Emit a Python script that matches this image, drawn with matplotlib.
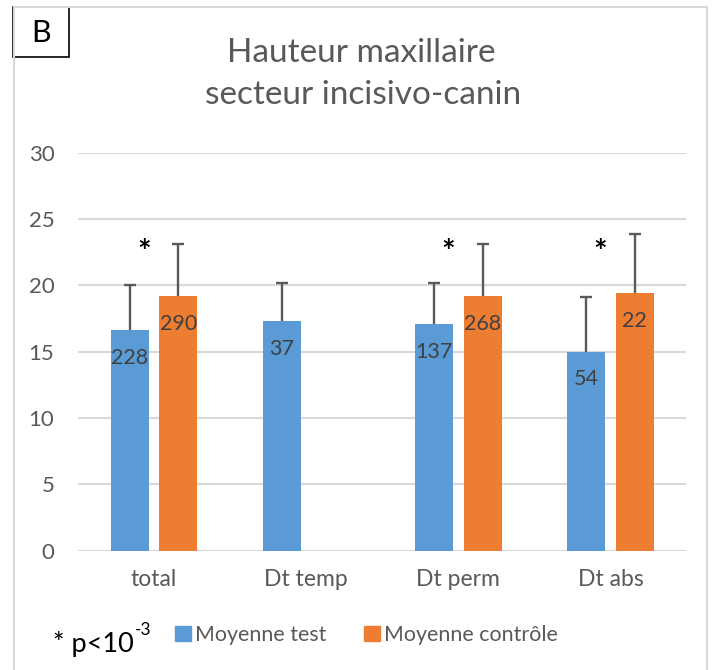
import matplotlib
matplotlib.use("Agg")
import matplotlib.pyplot as plt
import matplotlib.patches as mpatches
from matplotlib.lines import Line2D
import numpy as np

plt.rcParams['font.family'] = ['Lato', 'DejaVu Sans']

categories = ["total", "Dt temp", "Dt perm", "Dt abs"]
test_means = [16.6, 17.3, 17.1, 15.0]
test_err = [3.45, 2.9, 3.05, 4.1]
test_n = ["228", "37", "137", "54"]
ctrl_means = [19.2, np.nan, 19.2, 19.4]
ctrl_err = [3.95, np.nan, 3.9, 4.45]
ctrl_n = ["290", "", "268", "22"]
signif = [True, False, True, True]
yticks = [0, 5, 10, 15, 20, 25, 30]

BLUE = "#5B9BD5"
ORANGE = "#ED7D31"
GRAY = "#595959"
GRID = "#D9D9D9"

W, H = 717, 670
fig = plt.figure(figsize=(W / 100, H / 100), dpi=100)

def fx(px):
    return px / W

def fy(py):
    return 1 - py / H

# outer frame
for (x0, y0, x1, y1) in [(14, 7, 14, 680), (14, 7, 707, 7), (707, 7, 707, 680)]:
    fig.add_artist(Line2D([fx(x0), fx(x1)], [fy(y0), fy(y1)], color=GRID, lw=1.5,
                          transform=fig.transFigure))

ax = fig.add_axes([fx(78), fy(550.7), fx(686.5) - fx(78), fy(152.7) - fy(550.7)])
x = np.arange(len(categories))
off = 0.16
bw = 0.25

tm = np.array(test_means)
te = np.array(test_err)
cm = np.array(ctrl_means)
ce = np.array(ctrl_err)
ok = ~np.isnan(cm)

ax.bar(x - off, tm, bw, color=BLUE, zorder=3, label="Moyenne test")
ax.bar(x + off, cm, bw, color=ORANGE, zorder=3, label="Moyenne contrôle")

# upper-only error bars (no cap at the bar top)
for xs, m, e in [(x - off, tm, te), ((x + off)[ok], cm[ok], ce[ok])]:
    ax.vlines(xs, m, m + e, color=GRAY, lw=1.7, zorder=4)
    ax.plot(xs, m + e, ls='none', marker='_', markersize=9, mew=1.7,
            color=GRAY, zorder=4)

for i in range(len(x)):
    ax.annotate(test_n[i], (x[i] - off, tm[i]), xytext=(0, -20),
                textcoords='offset points', ha='center', va='center',
                fontsize=15.5, color="#404040", zorder=5)
    if ok[i]:
        ax.annotate(ctrl_n[i], (x[i] + off, cm[i]), xytext=(0, -20),
                    textcoords='offset points', ha='center', va='center',
                    fontsize=15.5, color="#404040", zorder=5)
    if signif[i]:
        ax.text(x[i] - 0.065, 22.4, "*", ha='center', va='center', fontsize=23,
                fontweight='bold', color='black', zorder=5)

ax.set_xlim(-0.5, 3.5)
ax.set_ylim(0, 30)
ax.set_yticks(yticks)
ax.set_xticks(x)
ax.set_xticklabels(categories)
ax.yaxis.grid(True, color=GRID, lw=1.5, zorder=0)
ax.set_axisbelow(True)
for s in ax.spines.values():
    s.set_visible(False)
ax.tick_params(axis='both', length=0, labelcolor=GRAY)
ax.tick_params(axis='y', labelsize=16, pad=17)
ax.tick_params(axis='x', labelsize=16.5, pad=13)

# title
fig.text(fx(361), fy(53), "Hauteur maxillaire", ha='center', va='center',
         fontsize=24, color=GRAY)
fig.text(fx(363), fy(95), "secteur incisivo-canin", ha='center', va='center',
         fontsize=24, color=GRAY)

# B box
fig.add_artist(mpatches.Rectangle((fx(13), fy(57)), fx(69) - fx(13), fy(7) - fy(57),
                                  transform=fig.transFigure, facecolor='white',
                                  edgecolor='black', lw=1.2))
fig.text(fx(41), fy(33), "B", ha='center', va='center', fontsize=22, color='black')

# legend
handles = [mpatches.Patch(color=BLUE, label="Moyenne test"),
           mpatches.Patch(color=ORANGE, label="Moyenne contrôle")]
fig.legend(handles=handles, loc='center left', bbox_to_anchor=(fx(164), fy(635)),
           ncol=2, frameon=False, fontsize=15.4, labelcolor=GRAY,
           handlelength=0.75, handleheight=0.75, handletextpad=0.2,
           columnspacing=1.75, borderpad=0)

t = fig.text(fx(53), fy(644), "* p<10", ha='left', va='center', fontsize=19.5, color='black')
fig.canvas.draw()
bb = t.get_window_extent()
fig.text(bb.x1 / W + 0.001, fy(630), "-3", ha='left', va='center', fontsize=12.5, color='black')

fig.savefig("out.png", dpi=100)
